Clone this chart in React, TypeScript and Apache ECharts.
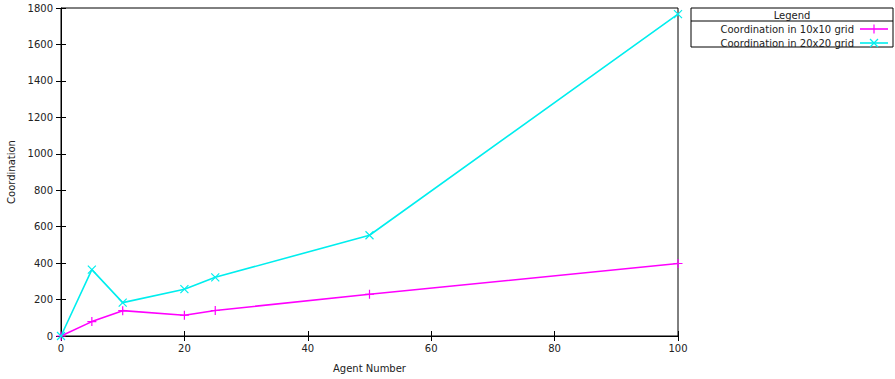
import React, { useEffect, useRef } from "react";
import * as echarts from "echarts";

const agents = [0, 5, 10, 20, 25, 50, 100];
const coord10 = [0, 79, 139, 114, 140, 229, 398];
const coord20 = [0, 364, 183, 257, 322, 553, 1766];
const seriesNames = ["Coordination in 10x10 grid", "Coordination in 20x20 grid"];
const seriesColors = ["#ff00ff", "#00eeee"];

const FONT = "DejaVu Sans";
const PLUS = "path://M5,0L5,10M0,5L10,5";
const CROSS = "path://M0,0L10,10M0,10L10,0";

export default function App() {
  const ref = useRef<HTMLDivElement>(null);
  useEffect(() => {
    const chart = echarts.init(ref.current!, null, { renderer: "svg" });
    const mk = (vals: number[]) => agents.map((a, i) => [a, vals[i]]);
    const legX = 691, legY = 8, legW = 202, legH = 39;
    chart.setOption({
      animation: false,
      backgroundColor: "#fff",
      textStyle: { fontFamily: FONT },
      grid: { left: 61, right: 217, top: 8, bottom: 43, show: true, borderColor: "#000", borderWidth: 1, outerBoundsMode: "none", containLabel: false },
      xAxis: [
        {
          type: "value", min: 0, max: 100, interval: 20,
          axisLine: { show: true, onZero: false, lineStyle: { color: "#000", width: 1 } },
          axisTick: { inside: true, length: 5, lineStyle: { color: "#000" } },
          splitLine: { show: false },
          axisLabel: { color: "#222", fontSize: 10, fontFamily: FONT, margin: 7 },
          name: "Agent Number", nameLocation: "middle", nameGap: 27,
          nameTextStyle: { color: "#222", fontSize: 10, fontFamily: FONT },
        },
        {
          type: "value", min: 0, max: 100, interval: 20, position: "top",
          axisLine: { show: false }, axisLabel: { show: false },
          axisTick: { inside: true, length: 5, lineStyle: { color: "#000" } },
          splitLine: { show: false },
        },
      ],
      yAxis: [
        {
          type: "value", min: 0, max: 1800, interval: 200,
          axisLine: { show: true, onZero: false, lineStyle: { color: "#000", width: 1 } },
          axisTick: { inside: true, length: 5, lineStyle: { color: "#000" } },
          splitLine: { show: false },
          axisLabel: { color: "#222", fontSize: 10, fontFamily: FONT, margin: 8, formatter: (v: number) => String(v) },
          name: "Coordination", nameLocation: "middle", nameGap: 45, nameRotate: 90,
          nameTextStyle: { color: "#222", fontSize: 10, fontFamily: FONT },
        },
        {
          type: "value", min: 0, max: 1800, interval: 200, position: "right",
          axisLine: { show: false }, axisLabel: { show: false },
          axisTick: { inside: true, length: 5, lineStyle: { color: "#000" } },
          splitLine: { show: false },
        },
      ],
      series: [
        {
          name: seriesNames[0], type: "line", data: mk(coord10),
          symbol: PLUS, symbolSize: 9, showSymbol: true,
          lineStyle: { color: seriesColors[0], width: 1.6 },
          itemStyle: { color: "none", borderColor: seriesColors[0], borderWidth: 1.2 },
        },
        {
          name: seriesNames[1], type: "line", data: mk(coord20),
          symbol: CROSS, symbolSize: 8, showSymbol: true,
          lineStyle: { color: seriesColors[1], width: 1.6 },
          itemStyle: { color: "none", borderColor: seriesColors[1], borderWidth: 1.2 },
        },
      ],
      graphic: [
        { type: "rect", shape: { x: legX, y: legY, width: legW, height: legH }, style: { fill: "none", stroke: "#000", lineWidth: 1 } },
        { type: "line", shape: { x1: legX, y1: legY + 13, x2: legX + legW, y2: legY + 13 }, style: { stroke: "#000", lineWidth: 1 } },
        { type: "text", x: legX + legW / 2, y: legY + 7, style: { text: "Legend", fontSize: 10, fontFamily: FONT, fill: "#222", align: "center", verticalAlign: "middle" } },
        ...seriesNames.flatMap((n, i) => {
          const cy = legY + 21 + i * 14;
          const els: any[] = [
            { type: "text", x: 854, y: cy, style: { text: n, fontSize: 10, fontFamily: FONT, fill: "#222", align: "right", verticalAlign: "middle" } },
            { type: "line", shape: { x1: 860, y1: cy, x2: 888, y2: cy }, style: { stroke: seriesColors[i], lineWidth: 1.6 } },
          ];
          if (i === 0) {
            els.push({ type: "line", shape: { x1: 874, y1: cy - 4.5, x2: 874, y2: cy + 4.5 }, style: { stroke: seriesColors[i], lineWidth: 1.2 } });
          } else {
            els.push({ type: "line", shape: { x1: 870, y1: cy - 4, x2: 878, y2: cy + 4 }, style: { stroke: seriesColors[i], lineWidth: 1.2 } });
            els.push({ type: "line", shape: { x1: 870, y1: cy + 4, x2: 878, y2: cy - 4 }, style: { stroke: seriesColors[i], lineWidth: 1.2 } });
          }
          return els;
        }),
      ],
    });
    return () => chart.dispose();
  }, []);
  return <div ref={ref} style={{ width: 895, height: 379, position: "absolute", left: 0, top: 0 }} />;
}
